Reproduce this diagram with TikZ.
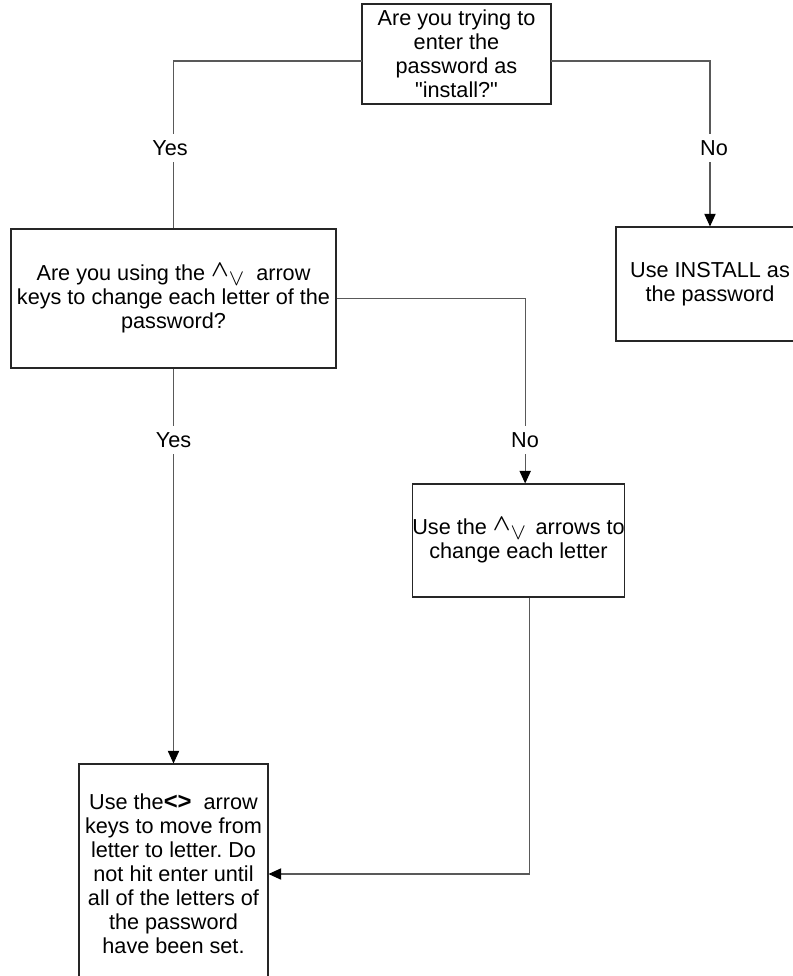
\documentclass[tikz,border=0pt]{standalone}
\usepackage{fontspec}
\setmainfont{Liberation Sans}
\usetikzlibrary{arrows.meta}
\usepackage{amsmath,bm}
\newcommand{\linecolor}{black!65}
\newcommand{\boxcolor}{black!85}
\newcommand{\thickness}{0.8pt}
\newcommand{\updownkeys}{\raisebox{0.4ex}{$\bm{\wedge}$}\raisebox{-0.4ex}{$\vee$}}
\newcommand{\leftrightkeys}{\scalebox{1.1}{\textbf{\textless\textgreater}}}
\frenchspacing
\tikzset{
  flowbox/.style={draw=\boxcolor, line width=\thickness, align=center, inner sep=0pt, font=\fontsize{16.25}{18}\selectfont},
  flowline/.style={draw=\linecolor, line width=\thickness},
  flowarrow/.style={flowline, -{Triangle[length=9.5pt,width=8.5pt,black]}},
  answer/.style={fill=white, inner sep=5pt, font=\fontsize{16.25}{18}\selectfont}
}

\begin{document}
\begin{tikzpicture}[x=0.75pt,y=-0.75pt]
\useasboundingbox (0,0) rectangle (793,976);
\clip (0,0) rectangle (793,976);
\node[flowbox, minimum width=141.75pt, minimum height=75pt] (1) at (456.5, 54) {Are you trying to\\enter the\\password as\\\textquotedbl install?\textquotedbl};
\node[flowbox, minimum width=243.75pt, minimum height=104.25pt] (2) at (173.5, 298.5) {Are you using the \updownkeys\ \ arrow\\keys to change each letter of the\\password?};
\node[flowbox, minimum width=141pt, minimum height=85.5pt] (3) at (710, 284) {Use INSTALL as\\the password};
\node[flowbox, minimum width=158.25pt, minimum height=84.75pt] (4) at (518.5, 540.5) {Use the \updownkeys\ \,arrows to\\change each letter};
\node[flowbox, minimum width=141.75pt, minimum height=165pt] (5) at (173.5, 874) {Use the\leftrightkeys\ \ arrow\\keys to move from\\letter to letter. Do\\not hit enter until\\all of the letters of\\the password\\have been set.};
\coordinate (1w) at (362, 61);
\coordinate (1e) at (551, 61);
%question 1
\draw[flowline] (1w) -| (2.north);
\draw[flowarrow] (1e) -| (3.north);
\node[answer] (y1) at (170, 148) {Yes};
\node[answer] (n1) at (714, 148) {No};
%question 2
\draw[flowarrow] (2.south) -- (5.north);
\draw[flowarrow] (2.east) -| ([xshift=5pt]4.north);
\node[answer] (y2) at (173.5, 440) {Yes};
\node[answer] (n2) at (525, 440) {No};
%back to 5
\draw[flowarrow] ([xshift=8pt]4.south) |- (5.east);
\end{tikzpicture}
\end{document}
